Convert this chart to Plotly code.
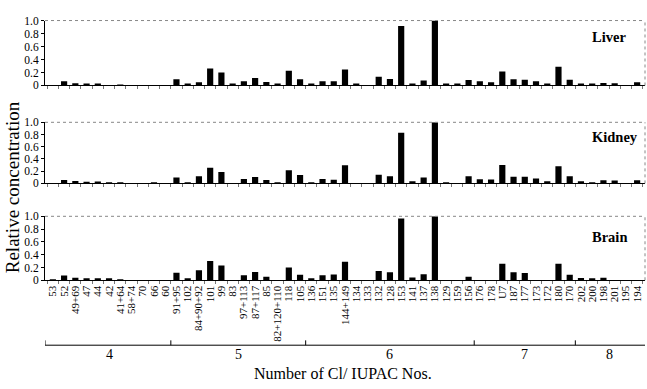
import plotly.graph_objects as go

categories = ["53", "52", "49+69", "47", "44", "42", "41+64", "58+74", "70", "66", "60",
              "91+95", "102", "84+90+92", "101", "99", "83", "97+113", "87+117", "85",
              "82+120+110", "118", "105",
              "136", "151", "135", "144+149", "134", "133", "132", "128", "153", "141",
              "137", "138", "129", "159", "156",
              "176", "178", "U7", "187", "177", "173", "172", "180", "170",
              "202", "200", "198", "201", "195", "194"]

liver = [0, 0.065, 0.035, 0.025, 0.025, 0, 0.01, 0, 0, 0, 0,
         0.095, 0.02, 0.05, 0.26, 0.2, 0.03, 0.065, 0.115, 0.055, 0.02, 0.225, 0.095,
         0.025, 0.065, 0.065, 0.245, 0.025, 0, 0.135, 0.1, 0.915, 0.025, 0.075, 1.0, 0.02, 0.02, 0.085,
         0.065, 0.05, 0.215, 0.095, 0.09, 0.065, 0.02, 0.29, 0.09,
         0.02, 0.02, 0.04, 0.035, 0, 0.05]

kidney = [0, 0.053, 0.037, 0.027, 0.032, 0.02, 0.02, 0, 0, 0.01, 0,
          0.095, 0.02, 0.117, 0.255, 0.186, 0, 0.07, 0.106, 0.053, 0.02, 0.213, 0.138,
          0.02, 0.07, 0.06, 0.295, 0, 0, 0.14, 0.115, 0.83, 0.036, 0.094, 1.0, 0.02, 0, 0.115,
          0.068, 0.062, 0.3, 0.11, 0.11, 0.078, 0.036, 0.28, 0.115,
          0.036, 0.02, 0.052, 0.047, 0, 0.052]

brain = [0.01, 0.076, 0.04, 0.025, 0.025, 0.025, 0.015, 0, 0, 0, 0,
         0.116, 0.025, 0.157, 0.3, 0.232, 0, 0.08, 0.13, 0.055, 0, 0.2, 0.086,
         0.02, 0.08, 0.09, 0.29, 0, 0, 0.145, 0.125, 0.965, 0.045, 0.095, 1.0, 0, 0, 0.055,
         0, 0, 0.26, 0.125, 0.115, 0, 0, 0.26, 0.085,
         0.035, 0.03, 0.04, 0, 0, 0]

cl_groups = ["4", "5", "6", "7", "8"]
cl_counts = [11, 12, 15, 9, 6]

panel_names = ["Liver", "Kidney", "Brain"]
panel_label_y = [0.75, 0.76, 0.68]
y_ticks = [0, 0.2, 0.4, 0.6, 0.8, 1.0]
y_ticktext = ["0", "0.2", "0.4", "0.6", "0.8", "1.0"]

W, H = 647, 389
SERIF = "Liberation Serif"

def py(px):
    return 1 - px / H

# panel vertical extents (pixels from top: top of 1.0, baseline 0)
panels_px = [(15, 82), (120, 183), (217, 283)]
x_dom = [45 / W, 645 / W]
x_rng = [-0.7, 52.7]

fig = go.Figure()
series = [liver, kidney, brain]
for i, vals in enumerate(series):
    suf = "" if i == 0 else str(i + 1)
    fig.add_trace(go.Bar(x=categories, y=vals, marker=dict(color="black", line=dict(width=0)),
                         xaxis="x" + suf, yaxis="y" + suf, showlegend=False))
    top, bot = panels_px[i]
    fig.layout["xaxis" + suf] = dict(
        domain=x_dom, range=x_rng, type="category", anchor="y" + suf,
        showline=True, linecolor="black", linewidth=1,
        tickmode="linear", tick0=0, dtick=1,
        ticks="outside", tickson="boundaries", ticklen=3, tickcolor="#777",
        showgrid=False, zeroline=False,
        showticklabels=(i == 2), tickangle=-90,
        tickfont=dict(family=SERIF, size=11, color="black"),
        categoryorder="array", categoryarray=categories)
    fig.layout["yaxis" + suf] = dict(
        domain=[py(bot), py(top)], range=[0, 1.0], anchor="x" + suf,
        showline=True, linecolor="black", linewidth=1,
        ticks="outside", ticklen=3, tickcolor="black",
        tickvals=y_ticks, ticktext=y_ticktext, showgrid=False, zeroline=False,
        tickfont=dict(family=SERIF, size=11.5, color="black"))
    # dotted top and right frame
    fig.add_shape(type="line", xref="x" + suf + " domain", yref="y" + suf + " domain",
                  x0=0, x1=1, y0=1, y1=1, line=dict(color="#888", width=1, dash="dot"))
    fig.add_shape(type="line", xref="x" + suf + " domain", yref="y" + suf + " domain",
                  x0=1, x1=1, y0=0, y1=1, line=dict(color="#888", width=1, dash="dot"))
    fig.add_annotation(text="<b>" + panel_names[i] + "</b>", xref="x" + suf, yref="y" + suf,
                       x=47.8, y=panel_label_y[i], xanchor="left", yanchor="middle", showarrow=False,
                       font=dict(family=SERIF, size=14.5, color="black"))

# Cl-number bracket axis
bracket_y = py(350)
fig.add_shape(type="line", xref="x3", yref="paper", x0=x_rng[0], x1=x_rng[1],
              y0=bracket_y, y1=bracket_y, line=dict(color="black", width=1))
start = 0
bounds = [x_rng[0]]
for g, n in zip(cl_groups, cl_counts):
    end = start + n
    center = (start + end - 1) / 2
    fig.add_annotation(text=g, xref="x3", yref="paper", x=center, y=py(351),
                       xanchor="center", yanchor="top", showarrow=False, borderpad=0,
                       font=dict(family=SERIF, size=14, color="black"))
    if end < len(categories):
        bounds.append(end - 0.5)
    start = end
for b in bounds:
    fig.add_shape(type="line", xref="x3", yref="paper", x0=b, x1=b,
                  y0=bracket_y, y1=py(345), line=dict(color="black", width=1))

fig.add_annotation(text="Number of Cl/ IUPAC Nos.", xref="paper", yref="paper",
                   x=343 / W, y=0, xanchor="center", yanchor="bottom", showarrow=False,
                   borderpad=0, font=dict(family=SERIF, size=16, color="black"))
fig.add_annotation(text="Relative concentration", xref="paper", yref="paper",
                   x=12 / W, y=py(187), xanchor="center", yanchor="middle", showarrow=False,
                   textangle=-90, font=dict(family=SERIF, size=19, color="black"))

fig.update_layout(width=W, height=H, margin=dict(l=0, r=0, t=0, b=0),
                  paper_bgcolor="white", plot_bgcolor="white", bargap=0.45)

fig.write_html("out.html")
